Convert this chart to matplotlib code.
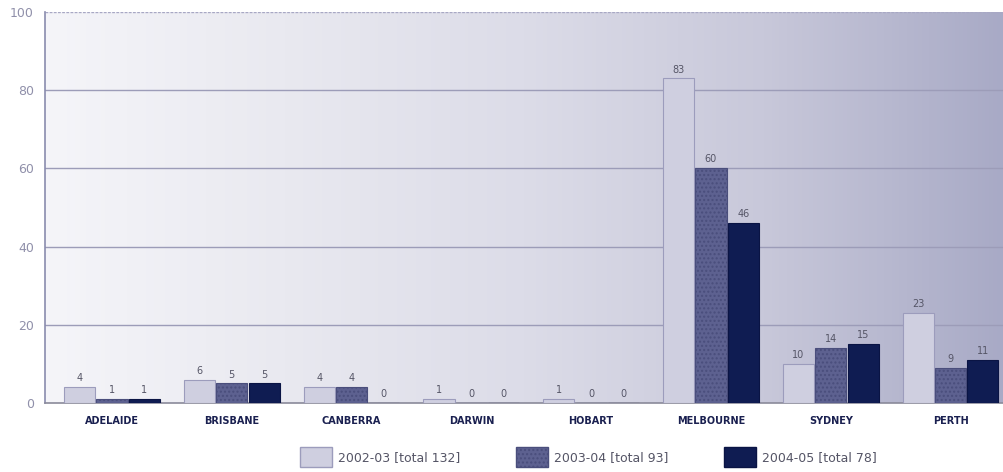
import matplotlib.pyplot as plt
import numpy as np
from matplotlib.colors import LinearSegmentedColormap
from matplotlib.patches import Patch

cities = ["ADELAIDE", "BRISBANE", "CANBERRA", "DARWIN", "HOBART",
          "MELBOURNE", "SYDNEY", "PERTH"]
y2002 = [4, 6, 4, 1, 1, 83, 10, 23]
y2003 = [1, 5, 4, 0, 0, 60, 14, 9]
y2004 = [1, 5, 0, 0, 0, 46, 15, 11]
series_labels = ["2002-03 [total 132]", "2003-04 [total 93]", "2004-05 [total 78]"]

face = ["#cfcfe0", "#5d6190", "#0f1c52"]
edge = ["#9c9cbc", "#4a4e7c", "#0a1444"]
hatch = [None, "....", None]

plt.rcParams["hatch.color"] = "#7c80a8"

fig = plt.figure(figsize=(10.04, 4.72), dpi=100)
ax = fig.add_axes([45 / 1004, 1 - 403 / 472, 959 / 1004, 391 / 472])

# soft left-to-right gradient behind the bars
bg = LinearSegmentedColormap.from_list(
    "bg", ["#f5f5f9", "#e9e9f0", "#dcdce8", "#c8c8da", "#a8aac6"])
grad = np.linspace(0, 1, 256).reshape(1, -1)
ax.imshow(grad, cmap=bg, aspect="auto", extent=[0, 1, 0, 1],
          transform=ax.transAxes, zorder=0)

x = np.arange(len(cities))
w = 0.26
off = 0.27
for k, vals in enumerate([y2002, y2003, y2004]):
    xs = x + (k - 1) * off
    ax.bar(xs, vals, width=w, color=face[k], edgecolor=edge[k], linewidth=0.8,
           hatch=hatch[k], zorder=3)
    for xi, v in zip(xs, vals):
        ax.text(xi, v + 1.0, str(v), ha="center", va="bottom", fontsize=7,
                color="#555566", zorder=4)

ax.set_xlim(-0.559, 7.446)
ax.set_ylim(0, 100)
ax.set_yticks([0, 20, 40, 60, 80, 100])
ax.set_yticklabels(["0", "20", "40", "60", "80", "100"], color="#9090aa",
                   fontsize=9)
ax.set_xticks(x)
ax.set_xticklabels(cities, fontsize=7, fontweight="bold", color="#1a2050")
ax.tick_params(axis="both", length=0)
ax.tick_params(axis="x", pad=9)
ax.tick_params(axis="y", pad=8)

for gy in [20, 40, 60, 80]:
    ax.axhline(gy, color="#9c9cb8", linewidth=1.0, zorder=1)
ax.axhline(100, color="#a8a8c4", linewidth=1.0, linestyle=(0, (2, 1)), zorder=1)

for s in ["top", "right"]:
    ax.spines[s].set_visible(False)
ax.spines["left"].set_color("#8a8cae")
ax.spines["bottom"].set_color("#8a8a9a")
ax.spines["left"].set_linewidth(1.2)
ax.spines["bottom"].set_linewidth(1.2)

handles = [Patch(facecolor=face[k], edgecolor=edge[k], hatch=hatch[k])
           for k in range(3)]
fig.legend(handles, series_labels, loc="center", bbox_to_anchor=(0.586, 1 - 457 / 472),
           ncol=3, frameon=False, fontsize=9, handlelength=2.6, handleheight=2.0,
           columnspacing=4.4, handletextpad=0.5, labelcolor="#555566")

fig.savefig("out.png", dpi=100)
